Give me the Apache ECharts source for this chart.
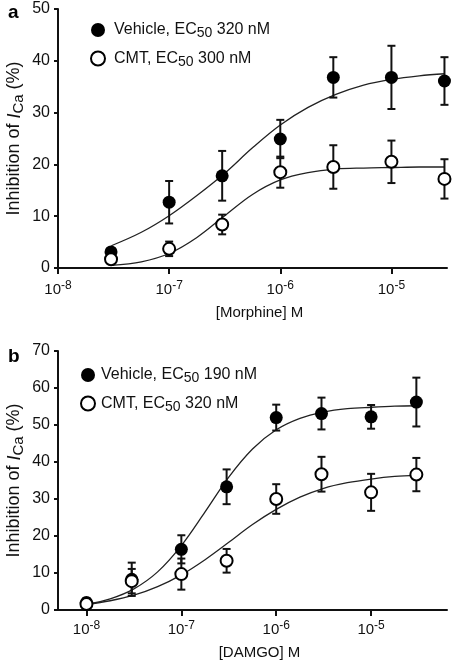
<!DOCTYPE html>
<html>
<head>
<meta charset="utf-8">
<script src="https://cdn.jsdelivr.net/npm/echarts@6/dist/echarts.min.js"></script>
<style>
html,body{margin:0;padding:0;background:#fff;}
#c{width:452px;height:662px;}
</style>
</head>
<body>
<div id="c"></div>
<script>
// ---------- Panel a: Morphine ----------
const concA = [3e-8, 1e-7, 3e-7, 1e-6, 3e-6, 1e-5, 3e-5];
const vehA = [3.1, 12.7, 17.8, 24.9, 36.8, 36.8, 36.1];
const vehAErr = [0.7, 4.1, 4.8, 3.7, 3.9, 6.1, 4.6];
const cmtA = [1.7, 3.7, 8.4, 18.5, 19.5, 20.5, 17.2];
const cmtAErr = [0.5, 1.4, 1.9, 3.0, 4.2, 4.1, 3.8];
// fitted curves (x = log10 concentration)
const curveLogA = [-7.52, -7.25, -7.0, -6.75, -6.5, -6.25, -6.0, -5.75, -5.5, -5.25, -5.0, -4.75, -4.52];
const fitVehA = [4.3, 6.9, 10.1, 14.0, 18.3, 23.2, 27.6, 31.0, 33.5, 35.3, 36.4, 37.1, 37.5];
const fitCmtA = [0.5, 1.2, 2.8, 5.9, 10.1, 14.2, 17.0, 18.4, 19.1, 19.3, 19.4, 19.5, 19.5];
const legendA = ['Vehicle, EC50 320 nM', 'CMT, EC50 300 nM'];

// ---------- Panel b: DAMGO ----------
const concB = [1e-8, 3e-8, 1e-7, 3e-7, 1e-6, 3e-6, 1e-5, 3e-5];
const vehB = [2.0, 8.3, 16.4, 33.3, 52.0, 53.1, 52.2, 56.2];
const vehBErr = [1.2, 4.5, 3.8, 4.7, 3.5, 4.3, 3.2, 6.6];
const cmtB = [1.6, 7.8, 9.7, 13.3, 30.0, 36.7, 31.8, 36.6];
const cmtBErr = [1.0, 3.3, 4.2, 3.2, 4.0, 4.7, 5.0, 4.5];
const curveLogB = [-8.0, -7.75, -7.5, -7.25, -7.0, -6.75, -6.5, -6.25, -6.0, -5.75, -5.5, -5.25, -5.0, -4.75, -4.52];
const fitVehB = [1.5, 3.0, 5.7, 10.3, 17.4, 26.5, 35.9, 43.5, 48.7, 51.8, 53.5, 54.4, 54.8, 55.1, 55.2];
const fitCmtB = [1.5, 2.5, 4.0, 6.3, 9.5, 13.6, 18.3, 23.1, 27.2, 30.5, 32.9, 34.4, 35.4, 36.1, 36.4];
const legendB = ['Vehicle, EC50 190 nM', 'CMT, EC50 320 nM'];

// ---------- tick labels ----------
const decadeTicks = [-8, -7, -6, -5];
const yTitle = 'Inhibition of {i|I}{sub|Ca} (%)';
const xNameA = '[Morphine] M';
const xNameB = '[DAMGO] M';

const FONT = 'Liberation Sans, Arial, Helvetica, sans-serif';
const INK = '#111';

function pts(conc, vals, errs) {
  return conc.map((c, i) => errs ? [Math.log10(c), vals[i], errs[i]] : [Math.log10(c), vals[i]]);
}
function curve(xs, ys) { return xs.map((x, i) => [x, ys[i]]); }

function errRender(params, api) {
  const x = api.value(0), y = api.value(1), e = api.value(2);
  const t = api.coord([x, y + e]);
  const b = api.coord([x, y - e]);
  const hw = 4;
  const st = { stroke: INK, lineWidth: 2 };
  return {
    type: 'group',
    children: [
      { type: 'line', shape: { x1: t[0], y1: t[1], x2: b[0], y2: b[1] }, style: st },
      { type: 'line', shape: { x1: t[0] - hw, y1: t[1], x2: t[0] + hw, y2: t[1] }, style: st },
      { type: 'line', shape: { x1: b[0] - hw, y1: b[1], x2: b[0] + hw, y2: b[1] }, style: st }
    ]
  };
}

function legendFmt(n) {
  const p = n.split('EC50');
  return '{f|' + p[0] + 'EC}{sub|50}{t|' + p[1] + '}';
}

function xAxisFor(idx, min, max, name, nameGap, margin) {
  return {
    type: 'value', gridIndex: idx, min: min, max: max,
    name: name, nameLocation: 'middle', nameGap: nameGap, nameMoveOverlap: false,
    nameTextStyle: { fontFamily: FONT, fontSize: 15, color: INK, padding: [0, 0, 0, 14] },
    axisLine: { show: true, onZero: false, lineStyle: { color: INK, width: 2 } },
    axisTick: { show: true, customValues: decadeTicks, length: 6, lineStyle: { color: INK, width: 2 } },
    splitLine: { show: false },
    axisLabel: {
      customValues: decadeTicks, margin: margin,
      formatter: v => '{b|10}{sup|' + Math.round(v) + '}',
      rich: {
        b: { fontFamily: FONT, fontSize: 15, color: INK },
        sup: { fontFamily: FONT, fontSize: 12, color: INK, padding: [0, 0, 7, 0] }
      }
    }
  };
}
function yAxisFor(idx, max) {
  return {
    type: 'value', gridIndex: idx, min: 0, max: max, interval: 10,
    name: yTitle, nameLocation: 'middle', nameGap: 32, nameRotate: 90, nameMoveOverlap: false,
    nameTextStyle: {
      fontFamily: FONT, fontSize: 18, color: INK,
      rich: {
        i: { fontFamily: FONT, fontSize: 18, fontStyle: 'italic', color: INK },
        sub: { fontFamily: FONT, fontSize: 15, color: INK, padding: [8, 0, 0, 0] }
      }
    },
    axisLine: { show: true, lineStyle: { color: INK, width: 2 } },
    axisTick: { show: true, length: 4, lineStyle: { color: INK, width: 2 } },
    splitLine: { show: false },
    axisLabel: { fontFamily: FONT, fontSize: 16, color: INK, margin: 8 }
  };
}
function legendFor(names, left, top, firstPad) {
  return {
    data: names, orient: 'vertical', left: left, top: top,
    itemWidth: 14, itemHeight: 14, itemGap: 10, icon: 'circle',
    formatter: legendFmt,
    textStyle: {
      fontFamily: FONT, fontSize: 16, color: INK,
      rich: {
        f: { fontFamily: FONT, fontSize: 16, color: INK, padding: [0, 0, 0, firstPad] },
        t: { fontFamily: FONT, fontSize: 16, color: INK },
        sub: { fontFamily: FONT, fontSize: 14, color: INK, padding: [7, 0, 0, 0] }
      }
    }
  };
}

function seriesFor(idx, names, fitX, fitV, fitC, conc, v, ve, c, ce) {
  const lineStyle = { color: '#222', width: 1.3 };
  return [
    { type: 'line', xAxisIndex: idx, yAxisIndex: idx, data: curve(fitX, fitV), smooth: 0.35,
      showSymbol: false, lineStyle: lineStyle, silent: true, z: 1 },
    { type: 'line', xAxisIndex: idx, yAxisIndex: idx, data: curve(fitX, fitC), smooth: 0.35,
      showSymbol: false, lineStyle: lineStyle, silent: true, z: 1 },
    { type: 'custom', xAxisIndex: idx, yAxisIndex: idx, renderItem: errRender, data: pts(conc, v, ve), z: 2 },
    { type: 'custom', xAxisIndex: idx, yAxisIndex: idx, renderItem: errRender, data: pts(conc, c, ce), z: 2 },
    { name: names[0], type: 'scatter', xAxisIndex: idx, yAxisIndex: idx, data: pts(conc, v), symbol: 'circle',
      symbolSize: 13, itemStyle: { color: '#000', opacity: 1 }, z: 3 },
    { name: names[1], type: 'scatter', xAxisIndex: idx, yAxisIndex: idx, data: pts(conc, c), symbol: 'circle',
      symbolSize: 12, itemStyle: { color: '#fff', borderColor: '#000', borderWidth: 2, opacity: 1 }, z: 4 }
  ];
}

const chart = echarts.init(document.getElementById('c'), null, { renderer: 'canvas' });
chart.setOption({
  animation: false,
  backgroundColor: '#fff',
  textStyle: { fontFamily: FONT },
  title: [
    { text: 'a', left: 3, top: -2, textStyle: { fontFamily: FONT, fontSize: 19, fontWeight: 'bold', color: '#000' } },
    { text: 'b', left: 3, top: 342, textStyle: { fontFamily: FONT, fontSize: 19, fontWeight: 'bold', color: '#000' } }
  ],
  grid: [
    { left: 58, right: 5, top: 9, height: 259, containLabel: false, outerBoundsMode: 'none' },
    { left: 58, right: 5, top: 351, height: 259, containLabel: false, outerBoundsMode: 'none' }
  ],
  legend: [legendFor(legendA, 85, 17, 4), legendFor(legendB, 75, 362, 1)],
  xAxis: [
    xAxisFor(0, -8, -4.5, xNameA, 37, 12),
    xAxisFor(1, -8.3, -4.2, xNameB, 35, 10)
  ],
  yAxis: [yAxisFor(0, 50), yAxisFor(1, 70)],
  series: [].concat(
    seriesFor(0, legendA, curveLogA, fitVehA, fitCmtA, concA, vehA, vehAErr, cmtA, cmtAErr),
    seriesFor(1, legendB, curveLogB, fitVehB, fitCmtB, concB, vehB, vehBErr, cmtB, cmtBErr)
  )
});
</script>
</body>
</html>
